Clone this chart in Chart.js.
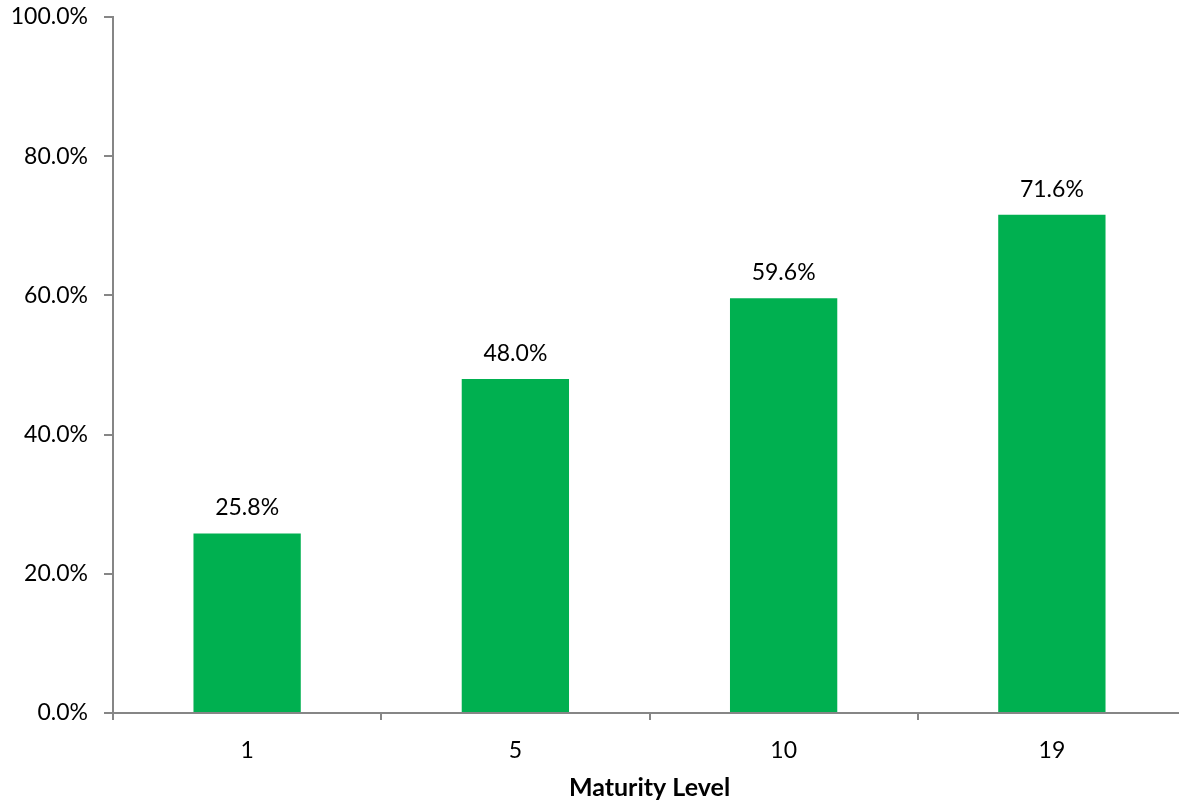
<!DOCTYPE html>
<html>
<head>
<meta charset="utf-8">
<script src="https://cdn.jsdelivr.net/npm/chart.js@4.4.1/dist/chart.umd.min.js"></script>
<style>
html,body{margin:0;padding:0;overflow:hidden;background:#fff;}
#wrap{width:1186px;height:800px;position:relative;}
</style>
</head>
<body>
<div id="wrap"><canvas id="c"></canvas></div>
<script>
const categories = ['1', '5', '10', '19'];
const values = [25.8, 48.0, 59.6, 71.6];
const yTicks = [0, 20, 40, 60, 80, 100];
const xTitle = 'Maturity Level';

const FONT = 'Lato, "Open Sans", sans-serif';
const FS = 23;

const labelPlugin = {
  id: 'barLabels',
  afterDatasetsDraw(chart) {
    const ctx = chart.ctx;
    const meta = chart.getDatasetMeta(0);
    ctx.save();
    ctx.font = FS + 'px ' + FONT;
    ctx.fillStyle = '#000';
    ctx.textAlign = 'center';
    ctx.textBaseline = 'alphabetic';
    meta.data.forEach((bar, i) => {
      ctx.fillText(values[i].toFixed(1) + '%', bar.x, bar.y - 18);
    });
    ctx.restore();
  }
};

new Chart(document.getElementById('c'), {
  type: 'bar',
  data: {
    labels: categories,
    datasets: [{
      data: values,
      backgroundColor: '#00B050',
      borderWidth: 0,
      categoryPercentage: 1.0,
      barPercentage: 0.4
    }]
  },
  options: {
    responsive: true,
    maintainAspectRatio: false,
    animation: false,
    layout: { padding: { top: 17, right: 0, left: 0, bottom: 0 } },
    plugins: { legend: { display: false }, tooltip: { enabled: false } },
    scales: {
      x: {
        grid: { display: true, drawOnChartArea: false, offset: true, color: '#868686', tickLength: 7, lineWidth: 2 },
        border: { display: true, color: '#868686', width: 2 },
        ticks: { color: '#000', font: { family: FONT, size: FS }, padding: 17 },
        title: { display: true, text: xTitle, color: '#000', font: { family: FONT, size: 25, weight: 'bold' }, padding: { top: 6, bottom: -3 } },
        afterFit(s) { s.height = 87; s.paddingLeft = 0; s.paddingRight = 0; }
      },
      y: {
        min: 0, max: 100,
        afterBuildTicks(s) { s.ticks = yTicks.map(v => ({ value: v })); },
        grid: { display: true, drawOnChartArea: false, color: '#868686', tickLength: 9, lineWidth: 2 },
        border: { display: true, color: '#868686', width: 2 },
        ticks: { color: '#000', font: { family: FONT, size: FS }, padding: 16, callback: v => v.toFixed(1) + '%' },
        afterFit(s) { s.width = 113; s.paddingTop = 0; s.paddingBottom = 0; }
      }
    }
  },
  plugins: [labelPlugin]
});
</script>
</body>
</html>
